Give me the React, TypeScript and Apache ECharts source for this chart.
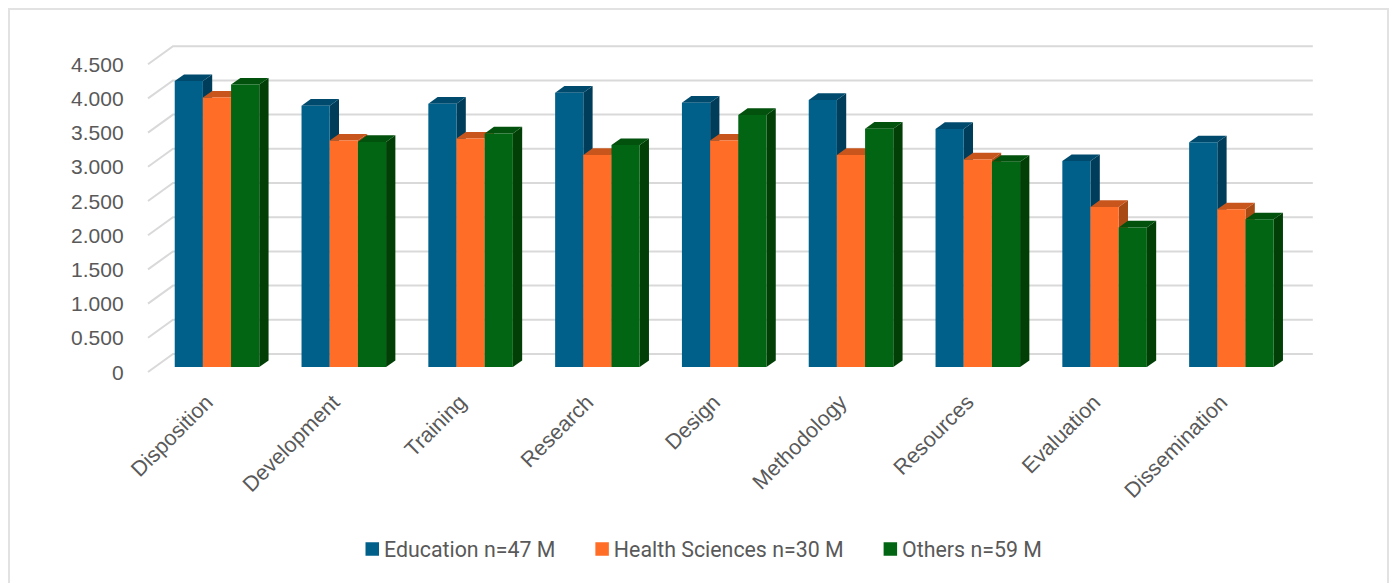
import React, { useEffect, useRef } from "react";
import * as echarts from "echarts";

const categories = ["Disposition", "Development", "Training", "Research", "Design", "Methodology", "Resources", "Evaluation", "Dissemination"];
const education = [4.18, 3.82, 3.85, 4.01, 3.865, 3.905, 3.48, 3.01, 3.285];
const healthSciences = [3.94, 3.31, 3.34, 3.1, 3.31, 3.1, 3.035, 2.34, 2.305];
const others = [4.13, 3.29, 3.415, 3.245, 3.685, 3.485, 3.0, 2.04, 2.16];
const gridValues = [0, 0.5, 1, 1.5, 2, 2.5, 3, 3.5, 4, 4.5];

const palette = [
  { name: "Education n=47 M", data: education, front: "#01608A", top: "#004B6D", side: "#003D5A" },
  { name: "Health Sciences n=30 M", data: healthSciences, front: "#FF6D26", top: "#C8561C", side: "#A84A14" },
  { name: "Others n=59 M", data: others, front: "#016513", top: "#02510C", side: "#013F07" },
];

// Pseudo-3D offsets in pixels. The value axis sits on the floor's front edge;
// the bars stand a little behind it and the wall further back.
const BAR_DX = 9.3;
const BAR_DY = 6.6;
const BAR_PLANE_DY = 5;
const WALL_DX = 19.4;
const WALL_DY = 18;
const WALL_RIGHT_DX = 18;
const AXIS_DX = 5.6;

function renderBar(seriesIndex: number, front: string, top: string, side: string) {
  return (params: any, api: any) => {
    const cat = api.value(0);
    const base = api.coord([cat, 0]);
    const head = api.coord([cat, api.value(1)]);
    const w = api.size([1, 0])[0] * (2 / 9);
    const x0 = base[0] - 1.5 * w + seriesIndex * w;
    const x1 = x0 + w;
    const y0 = base[1] - BAR_PLANE_DY;
    const y1 = head[1] - BAR_PLANE_DY;
    const poly = (points: number[][], fill: string) => ({
      type: "polygon",
      shape: { points },
      style: { fill },
    });
    return {
      type: "group",
      children: [
        poly([[x1, y0], [x1 + BAR_DX, y0 - BAR_DY], [x1 + BAR_DX, y1 - BAR_DY], [x1, y1]], side),
        poly([[x0, y1], [x0 + BAR_DX, y1 - BAR_DY], [x1 + BAR_DX, y1 - BAR_DY], [x1, y1]], top),
        poly([[x0, y0], [x1, y0], [x1, y1], [x0, y1]], front),
      ],
    };
  };
}

function renderWall(params: any, api: any) {
  const y = api.coord([0, api.value(0)])[1];
  const left = params.coordSys.x;
  const right = left + params.coordSys.width;
  return {
    type: "polyline",
    shape: {
      points: [
        [left - AXIS_DX, y],
        [left + WALL_DX, y - WALL_DY],
        [right + WALL_RIGHT_DX, y - WALL_DY],
      ],
    },
    style: { stroke: "#D9D9D9", lineWidth: 2, fill: "none" },
  };
}

export default function App() {
  const ref = useRef<HTMLDivElement>(null);
  useEffect(() => {
    document.body.style.margin = "0";
    document.body.style.background = "#fff";
    const chart = echarts.init(ref.current!, null, { renderer: "svg" });
    chart.setOption({
      animation: false,
      backgroundColor: "#fff",
      graphic: [
        {
          type: "rect",
          silent: true,
          z: -1,
          shape: { x: 9, y: 9, width: 1379, height: 590 },
          style: { fill: "none", stroke: "#E2E2E2", lineWidth: 2 },
        },
      ],
      grid: { left: 153.6, width: 1141.2, top: 64.2, height: 307.8 },
      legend: {
        left: 360.5,
        top: 533.5,
        itemWidth: 13.5,
        itemHeight: 13.5,
        itemGap: 40,
        icon: "rect",
        textStyle: { color: "#595959", fontFamily: "Roboto", fontSize: 21.35 },
        data: palette.map((s) => s.name),
      },
      xAxis: {
        type: "category",
        data: categories,
        axisLine: { show: false },
        axisTick: { show: false },
        axisLabel: {
          color: "#595959",
          fontFamily: "Liberation Sans",
          fontSize: 21.5,
          rotate: 45,
          margin: 19,
          padding: [0, 11, 0, 0],
          interval: 0,
        },
      },
      yAxis: {
        type: "value",
        min: 0,
        max: 4.5,
        interval: 0.5,
        splitLine: { show: false },
        axisLine: { show: false },
        axisTick: { show: false },
        axisLabel: {
          color: "#595959",
          fontFamily: "Liberation Sans",
          fontSize: 21,
          margin: 30,
          formatter: (v: number) => (v === 0 ? "0" : v.toFixed(3)),
        },
      },
      series: [
        {
          type: "custom",
          name: "wall",
          silent: true,
          data: gridValues.map((v) => [v]),
          encode: { y: 0 },
          renderItem: renderWall,
          z: 1,
        },
        ...palette.map((s, i) => ({
          type: "custom",
          name: s.name,
          itemStyle: { color: s.front },
          data: s.data.map((v, c) => [c, v]),
          encode: { x: 0, y: 1 },
          renderItem: renderBar(i, s.front, s.top, s.side),
          z: 2 + i,
        })),
      ],
    });
    return () => chart.dispose();
  }, []);
  return <div ref={ref} style={{ width: 1392, height: 583 }} />;
}
